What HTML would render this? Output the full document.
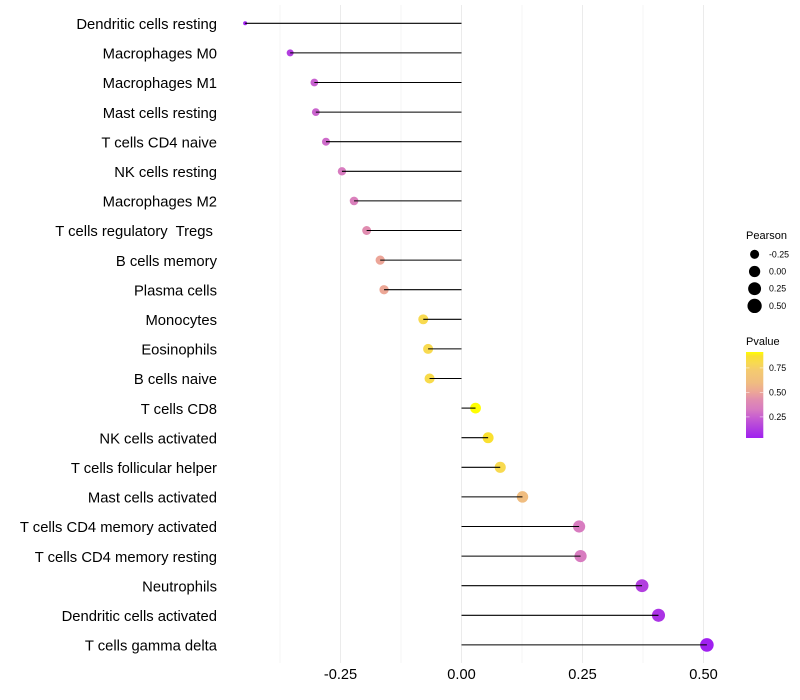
<!DOCTYPE html>
<html>
<head>
<meta charset="utf-8">
<style>
html,body{margin:0;padding:0;background:#fff;}
svg{display:block;font-family:"Liberation Sans",sans-serif;}
</style>
</head>
<body>
<svg id="chart" width="800" height="700" viewBox="0 0 800 700" xmlns="http://www.w3.org/2000/svg">
  <defs>
    <linearGradient id="pgrad" x1="0" y1="1" x2="0" y2="0"></linearGradient>
  </defs>
  <g id="grid"></g>
  <g id="marks"></g>
  <g id="ylabels"></g>
  <g id="xlabels"></g>
  <g id="size-legend">
    <text x="746" y="239" font-size="11" fill="#000">Pearson</text>
  </g>
  <g id="color-legend">
    <text x="746" y="345" font-size="11" fill="#000">Pvalue</text>
    <rect x="746" y="352" width="17.3" height="86" fill="url(#pgrad)"/>
  </g>
</svg>
<script>
const categories = ["Dendritic cells resting","Macrophages M0","Macrophages M1","Mast cells resting","T cells CD4 naive","NK cells resting","Macrophages M2","T cells regulatory  Tregs ","B cells memory","Plasma cells","Monocytes","Eosinophils","B cells naive","T cells CD8","NK cells activated","T cells follicular helper","Mast cells activated","T cells CD4 memory activated","T cells CD4 memory resting","Neutrophils","Dendritic cells activated","T cells gamma delta"];
const pearson = [-0.447,-0.354,-0.304,-0.301,-0.280,-0.247,-0.222,-0.196,-0.168,-0.160,-0.079,-0.069,-0.066,0.029,0.055,0.080,0.126,0.243,0.246,0.373,0.407,0.507];
const pvalue = [0.04,0.14,0.25,0.26,0.28,0.33,0.35,0.42,0.50,0.51,0.80,0.80,0.81,0.91,0.87,0.80,0.60,0.33,0.33,0.14,0.10,0.035];
const xTicks = [-0.25,0,0.25,0.5];
const xTickLabels = ["-0.25","0.00","0.25","0.50"];
const xMinorTicks = [-0.375,-0.125,0.125,0.375];
const sizeLegendValues = [-0.25,0,0.25,0.5];
const sizeLegendLabels = ["-0.25","0.00","0.25","0.50"];
const colorLegendValues = [0.25,0.5,0.75];
const colorLegendLabels = ["0.25","0.50","0.75"];

const NS = "http://www.w3.org/2000/svg";
function xScale(v){ return 461.5 + v * 484; }
function yScale(i){ return 23.3 + i * 29.6; }
function rScale(v){
  const lo = Math.min(...pearson), hi = Math.max(...pearson);
  const t = Math.max(0, (v - lo) / ((hi - lo) || 1));
  return 2 + 4.8 * Math.sqrt(t);
}
function colorBarY(p){ return 392.4 - (p - 0.5) * 98; }
const colorStops = [[0.035,"#a020f0"],[0.13,"#b03ce0"],[0.25,"#c860d0"],[0.33,"#d87cc0"],[0.42,"#e08cb0"],[0.50,"#eca598"],[0.60,"#f0bd80"],[0.72,"#f4ca70"],[0.80,"#f8da50"],[0.87,"#fae030"],[0.91,"#ffff00"]];
function hexToRgb(h){ return [1,3,5].map(k => parseInt(h.substr(k,2),16)); }
function pColor(p){
  if (p <= colorStops[0][0]) return colorStops[0][1];
  for (let k = 1; k < colorStops.length; k++) {
    if (p <= colorStops[k][0]) {
      const a = colorStops[k-1], b = colorStops[k];
      const t = (p - a[0]) / (b[0] - a[0]);
      const ca = hexToRgb(a[1]), cb = hexToRgb(b[1]);
      return "rgb(" + ca.map((c, j) => Math.round(c + (cb[j] - c) * t)).join(",") + ")";
    }
  }
  return "#ffff00";
}
function mk(parent, tag, attrs, text){
  const el = document.createElementNS(NS, tag);
  for (const key in attrs) el.setAttribute(key, attrs[key]);
  if (text !== undefined) {
    el.style.whiteSpace = "pre";
    el.textContent = text;
  }
  parent.appendChild(el);
  return el;
}
const grad = document.getElementById("pgrad");
colorStops.forEach(s => {
  mk(grad, "stop", {offset:(s[0] - 0.035) / (0.91 - 0.035), "stop-color":s[1]});
});
const grid = document.getElementById("grid");
xMinorTicks.forEach(v => {
  const l = mk(grid, "line", {x1:xScale(v), x2:xScale(v), y1:5, y2:663, stroke:"#f0f0f0", "stroke-width":0.6});
  
  
});
xTicks.forEach(v => {
  const l = mk(grid, "line", {x1:xScale(v), x2:xScale(v), y1:5, y2:663, stroke:"#ebebeb", "stroke-width":1});
  
  
});
const marks = document.getElementById("marks");
categories.forEach((c, i) => {
  const cx = xScale(pearson[i]), cy = yScale(i);
  const dot = mk(marks, "circle", {cx:cx, cy:cy, r:rScale(pearson[i]), fill:pColor(pvalue[i])});
  
  
  const seg = mk(marks, "line", {x1:xScale(0), x2:cx, y1:cy, y2:cy, stroke:"#000", "stroke-width":1.07});
  
  
});
const ylabels = document.getElementById("ylabels");
categories.forEach((c, i) => {
  const t = mk(ylabels, "text", {x:217, y:yScale(i) + 5.7, "text-anchor":"end", "font-size":14.8, fill:"#000"}, c);
  
  
});
const xlabels = document.getElementById("xlabels");
xTicks.forEach((v, i) => {
  const t = mk(xlabels, "text", {x:xScale(v), y:679, "text-anchor":"middle", "font-size":14.6, fill:"#000"}, xTickLabels[i]);
  
  
});
const sizeLegend = document.getElementById("size-legend");
sizeLegendValues.forEach((v, i) => {
  const y = 254.3 + i * 17.2;
  const d = mk(sizeLegend, "circle", {cx:754.6, cy:y, r:rScale(v) + 0.35, fill:"#000"});
  
  
  const t = mk(sizeLegend, "text", {x:769, y:y + 3, "font-size":8.8, fill:"#000"}, sizeLegendLabels[i]);
  
  
});
const colorLegend = document.getElementById("color-legend");
colorLegendValues.forEach((v, i) => {
  const y = colorBarY(v);
  const a = mk(colorLegend, "line", {x1:746, x2:749.5, y1:y, y2:y, stroke:"#fff", "stroke-opacity":0.7, "stroke-width":0.7});
  
  
  const b = mk(colorLegend, "line", {x1:759.8, x2:763.3, y1:y, y2:y, stroke:"#fff", "stroke-opacity":0.7, "stroke-width":0.7});
  
  
  const t = mk(colorLegend, "text", {x:769, y:y + 3, "font-size":8.8, fill:"#000"}, colorLegendLabels[i]);
  
  
});
</script>
</body>
</html>
